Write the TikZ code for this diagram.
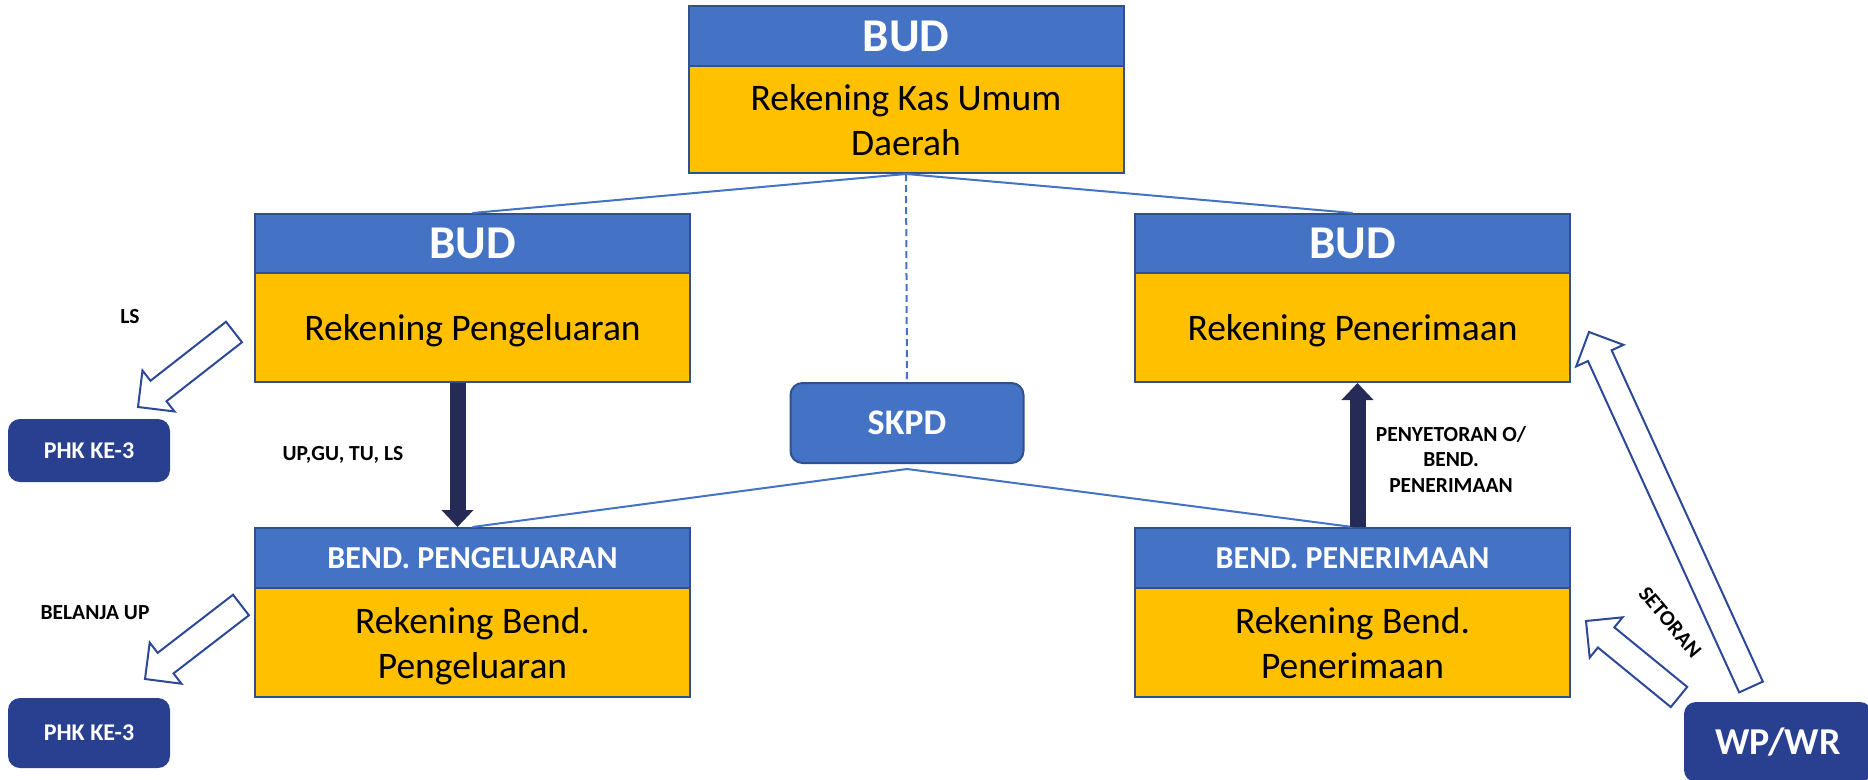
\documentclass[tikz,border=0pt]{standalone}
\usepackage{fontspec}
\setmainfont{Carlito}
\usetikzlibrary{arrows.meta,calc}

\definecolor{hblue}{HTML}{4472C4}
\definecolor{bordblue}{HTML}{2F528F}
\definecolor{gold}{HTML}{FFC000}
\definecolor{navy}{HTML}{262A56}
\definecolor{deepblue}{HTML}{28408F}
\definecolor{outlineblue}{HTML}{2C4897}

\begin{document}
\begin{tikzpicture}[x=1pt,y=-1pt,
  hdr/.style={rectangle, draw=bordblue, fill=hblue, line width=2pt, text=white,
    inner sep=0pt, minimum width=435pt, font=\bfseries\fontsize{47}{56}\selectfont},
  subhdr/.style={hdr, font=\bfseries\fontsize{32}{38}\selectfont},
  acct/.style={rectangle, draw=bordblue, fill=gold, line width=2pt, text=black,
    inner sep=0pt, minimum width=435pt, align=center, text depth=0pt,
    font=\fontsize{37.5}{45}\selectfont},
  party/.style={rectangle, rounded corners=12pt, fill=deepblue, text=white,
    inner sep=0pt, font=\bfseries\fontsize{24}{29}\selectfont},
  unitbox/.style={rectangle, rounded corners=12pt, draw=bordblue, fill=hblue,
    line width=2pt, text=white, inner sep=0pt,
    font=\bfseries\fontsize{36}{43}\selectfont},
  lbl/.style={text=black, inner sep=0pt, align=center,
    font=\bfseries\fontsize{21.5}{25.5}\selectfont},
  link/.style={draw=hblue, line width=2pt},
  flow/.style={draw=navy, line width=16pt, -{Triangle[width=31pt,length=17pt]}},
  blockarrow/.style={draw=outlineblue, line width=2pt, fill=white, line join=miter,
    to path={
      ($(\tikztostart)!13pt!90:(\tikztotarget)$)
      -- ($($(\tikztotarget)!26pt!(\tikztostart)$)!13pt!90:(\tikztotarget)$)
      -- ($($(\tikztotarget)!26pt!(\tikztostart)$)!26pt!90:(\tikztotarget)$)
      -- (\tikztotarget)
      -- ($($(\tikztotarget)!26pt!(\tikztostart)$)!26pt!-90:(\tikztotarget)$)
      -- ($($(\tikztotarget)!26pt!(\tikztostart)$)!13pt!-90:(\tikztotarget)$)
      -- ($(\tikztostart)!13pt!-90:(\tikztotarget)$)
      -- cycle}}
]
\useasboundingbox (0,0) rectangle (1868,779);

% account boxes: header + body
\node[hdr, minimum height=60pt]  (kasH)   at (906,36)     {BUD};
\node[acct, minimum height=107pt] (kasB)  at (906,119.5)  {Rekening Kas Umum\\Daerah};

\node[hdr, minimum height=59pt]  (budLh)  at (472.5,243.5) {BUD};
\node[acct, minimum height=109pt] (budLb) at (472.5,327.5) {Rekening Pengeluaran};

\node[hdr, minimum height=59pt]  (budRh)  at (1352.5,243.5) {BUD};
\node[acct, minimum height=109pt] (budRb) at (1352.5,327.5) {Rekening Penerimaan};

\node[subhdr, minimum height=60pt] (bendLh) at (472.5,558)   {BEND. PENGELUARAN};
\node[acct, minimum height=109pt]  (bendLb) at (472.5,642.5) {Rekening Bend.\\Pengeluaran};

\node[subhdr, minimum height=60pt] (bendRh) at (1352.5,558)   {BEND. PENERIMAAN};
\node[acct, minimum height=109pt]  (bendRb) at (1352.5,642.5) {Rekening Bend.\\Penerimaan};

\node[unitbox, minimum width=233pt, minimum height=80pt] (skpd) at (907,423) {SKPD};

% third parties
\node[party, minimum width=162pt, minimum height=63pt] (phkA) at (89,450.5) {PHK KE-3};
\node[party, minimum width=162pt, minimum height=70pt] (phkB) at (89,733)   {PHK KE-3};
\node[party, minimum width=188pt, minimum height=80pt,
      font=\bfseries\fontsize{38}{45}\selectfont] (wpwr) at (1778,742) {WP/WR};

% organisational links
\coordinate (skpdfoot) at ([yshift=-5pt]skpd.south);
\draw[link] (kasB.south) -- (budLh.north);
\draw[link] (kasB.south) -- (budRh.north);
\draw[link, dash pattern=on 7pt off 4pt] (kasB.south) -- (skpd.north);
\draw[link] (skpdfoot) -- (bendLh.north);
\draw[link] (skpdfoot) -- (bendRh.north);

% cash flows between accounts
\draw[flow] ([xshift=-15pt]budLb.south) -- ([xshift=-15pt]bendLh.north);
\draw[flow] ([xshift=5pt]bendRh.north) -- ([xshift=5pt]budRb.south);

% payments and deposits
\coordinate (lsTail) at (234,332);
\coordinate (lsTip)  at (138,407);
\coordinate (buTail) at (241,605);
\coordinate (buTip)  at (145,679);
\coordinate (stTail) at (1679,697);
\coordinate (stTip)  at (1586,621);
\coordinate (lgTail) at (1751,687);
\coordinate (lgTip)  at (1589,332);
\draw[blockarrow] (lsTail) to (lsTip);
\draw[blockarrow] (buTail) to (buTip);
\draw[blockarrow] (stTail) to (stTip);
\draw[blockarrow] (lgTail) to (lgTip);

% labels
\node[lbl] (lsL)  at (130,317) {LS};
\node[lbl] (upL)  at (343,455) {UP,GU, TU, LS};
\node[lbl] (belL) at (95,613)  {BELANJA UP};
\node[lbl] (penL) at (1451,459) {PENYETORAN O/\\BEND.\\PENERIMAAN};
\node[lbl, rotate=-50] (setL) at (1670,622) {SETORAN};
\end{tikzpicture}
\end{document}
